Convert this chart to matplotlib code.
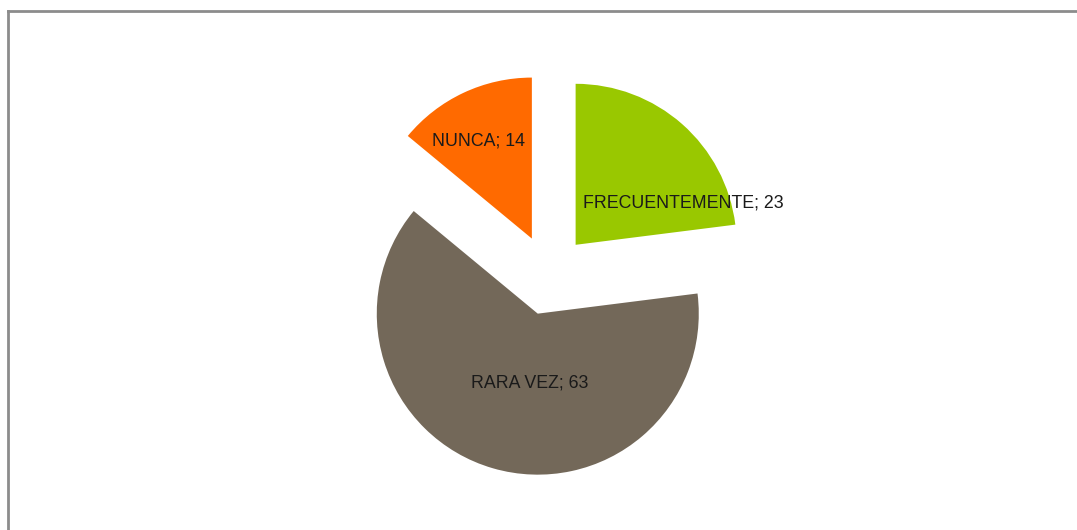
import matplotlib.pyplot as plt
from matplotlib.lines import Line2D
import numpy as np

categorias = ["FRECUENTEMENTE", "RARA VEZ", "NUNCA"]
valores = [23, 63, 14]
colores = ["#99C800", "#736859", "#FF6A00"]

W, H = 1077, 530
fig = plt.figure(figsize=(W / 100, H / 100), dpi=100)
ax = fig.add_axes([0, 0, 1, 1])

# pie centre and radius in pixels
cx, cy, r = 549, 255, 161

wedges, _ = ax.pie(valores, colors=colores, startangle=90, counterclock=False,
                   explode=[0.25] * 3, radius=1,
                   wedgeprops=dict(linewidth=0))

ax.set_aspect("auto")
ax.set_xlim(-cx / r, (W - cx) / r)
ax.set_ylim(-cy / r, (H - cy) / r)
ax.axis("off")

# label anchors (radius units, relative to pie centre)
pos_etiq = [(0.832, 0.447), (-0.118, -0.671), (-0.435, 0.832)]
for cat, val, (x, y) in zip(categorias, valores, pos_etiq):
    ax.text(x, y, f"{cat}; {val}", ha="center", va="center",
            fontsize=12.8, family="Liberation Sans", color="#1a1a1a")

# chart border (top and left visible)
fig.add_artist(Line2D([8 / W, 8 / W], [0, 1 - 11 / H], transform=fig.transFigure,
                      color="#8c8c8c", linewidth=2))
fig.add_artist(Line2D([8 / W, 1], [1 - 11 / H, 1 - 11 / H], transform=fig.transFigure,
                      color="#8c8c8c", linewidth=2))

fig.savefig("out.png", dpi=100)
